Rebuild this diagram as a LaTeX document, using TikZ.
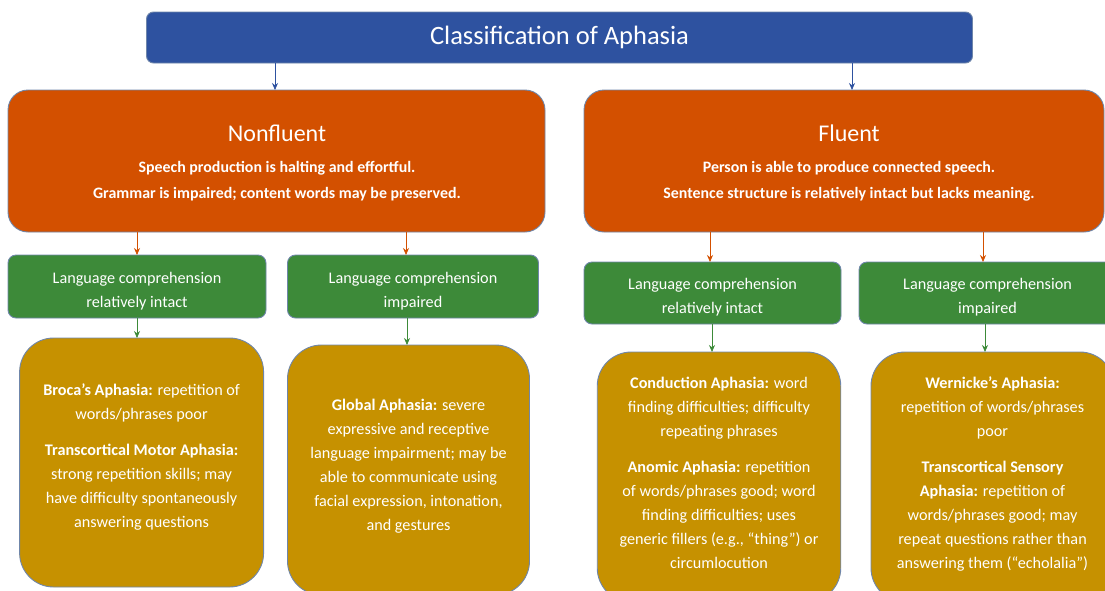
\documentclass[tikz,border=0pt]{standalone}
\usepackage{fontspec}
\setmainfont{Carlito}
\usetikzlibrary{arrows.meta}
\definecolor{cblue}{HTML}{2E52A0}
\definecolor{corange}{HTML}{D35000}
\definecolor{cgreen}{HTML}{3D8A39}
\definecolor{cgold}{HTML}{C69100}
\definecolor{cedge}{HTML}{6F86AA}
\tikzset{
  x=1pt, y=-1pt,
  box/.style={draw=cedge, line width=0.9pt, text=white, align=center, inner sep=0pt, outer sep=0pt},
  titlebox/.style={box, fill=cblue, rounded corners=7pt, font=\fontsize{26.5}{30}\selectfont},
  mainbox/.style={box, fill=corange, rounded corners=20pt},
  greenbox/.style={box, fill=cgreen, rounded corners=8pt, font=\fontsize{16.2}{24}\selectfont, text height=44pt},
  goldbox/.style={box, fill=cgold, rounded corners=34pt, font=\fontsize{16.2}{24}\selectfont},
  conn/.style={line width=0.7pt, -{Stealth[length=7pt,width=6pt]}},
}
\begin{document}
\begin{tikzpicture}
\useasboundingbox (0,0) rectangle (1105,590);
\clip (0,0) rectangle (1105,590);
% title
\node[titlebox, minimum width=826pt, minimum height=51pt] (title) at (559.5,37.5) {Classification of Aphasia};
% main boxes
\node[mainbox, minimum width=537pt, minimum height=142pt] (nf) at (276.5,161) {};
\node[text=white, align=center, font=\bfseries\fontsize{15.9}{26}\selectfont] (nft) at (277,163)
  {{\mdseries\fontsize{24}{26}\selectfont Nonfluent}\\[5pt]
   Speech production is halting and effortful.\\
   Grammar is impaired; content words may be preserved.};
\node[mainbox, minimum width=520pt, minimum height=142pt] (fl) at (844,161) {};
\node[text=white, align=center, font=\bfseries\fontsize{15.9}{26}\selectfont] (flt) at (849,163)
  {{\mdseries\fontsize{24}{26}\selectfont Fluent}\\[5pt]
   Person is able to produce connected speech.\\
   Sentence structure is relatively intact but lacks meaning.};
% green boxes
\node[greenbox, minimum width=258pt, minimum height=63pt] (g1) at (137,286.5) {Language comprehension\\relatively intact};
\node[greenbox, minimum width=251pt, minimum height=63pt] (g2) at (413,286.5) {Language comprehension\\impaired};
\node[greenbox, minimum width=257pt, minimum height=62pt] (g3) at (712.5,293) {Language comprehension\\relatively intact};
\node[greenbox, minimum width=257pt, minimum height=62pt] (g4) at (987.5,293) {Language comprehension\\impaired};
% gold boxes
\node[goldbox, minimum width=244pt, minimum height=249pt, text depth=14pt] (d1) at (141.6,462.5)
  {\textbf{Broca’s Aphasia:} repetition of\\words/phrases poor\\[12pt]
   \textbf{Transcortical Motor Aphasia:}\\strong repetition skills; may\\have difficulty spontaneously\\answering questions};
\node[goldbox, minimum width=242pt, minimum height=250pt, text depth=11pt] (d2) at (408.5,470)
  {\textbf{Global Aphasia:} severe\\expressive and receptive\\language impairment; may be\\able to communicate using\\facial expression, intonation,\\and gestures};
\node[goldbox, minimum width=243.5pt, minimum height=250pt, text depth=9pt] (d3) at (719,477)
  {\textbf{Conduction Aphasia:} word\\finding difficulties; difficulty\\repeating phrases\\[12pt]
   \textbf{Anomic Aphasia:} repetition\\of words/phrases good; word\\finding difficulties; uses\\generic fillers (e.g., “thing”) or\\circumlocution};
\node[goldbox, minimum width=243pt, minimum height=250pt, text depth=8pt] (d4) at (992.5,477)
  {\textbf{Wernicke’s Aphasia:}\\repetition of words/phrases\\poor\\[12pt]
   \textbf{Transcortical Sensory}\\\textbf{Aphasia:} repetition of\\words/phrases good; may\\repeat questions rather than\\answering them (“echolalia”)};
% connectors
\draw[conn, draw=cblue, fill=cblue] (title.south -| 275,0) -- (nf.north -| 275,0);
\draw[conn, draw=cblue, fill=cblue] (title.south -| 852,0) -- (fl.north -| 852,0);
\draw[conn, draw=corange, fill=corange] (nf.south -| 137,0) -- (g1.north -| 137,0);
\draw[conn, draw=corange, fill=corange] (nf.south -| 406,0) -- (g2.north -| 406,0);
\draw[conn, draw=corange, fill=corange] (fl.south -| 710,0) -- (g3.north -| 710,0);
\draw[conn, draw=corange, fill=corange] (fl.south -| 983,0) -- (g4.north -| 983,0);
\draw[conn, draw=cgreen, fill=cgreen] (g1.south -| 137,0) -- (d1.north -| 137,0);
\draw[conn, draw=cgreen, fill=cgreen] (g2.south -| 407,0) -- (d2.north -| 407,0);
\draw[conn, draw=cgreen, fill=cgreen] (g3.south -| 712,0) -- (d3.north -| 712,0);
\draw[conn, draw=cgreen, fill=cgreen] (g4.south -| 985,0) -- (d4.north -| 985,0);
\end{tikzpicture}
\end{document}
